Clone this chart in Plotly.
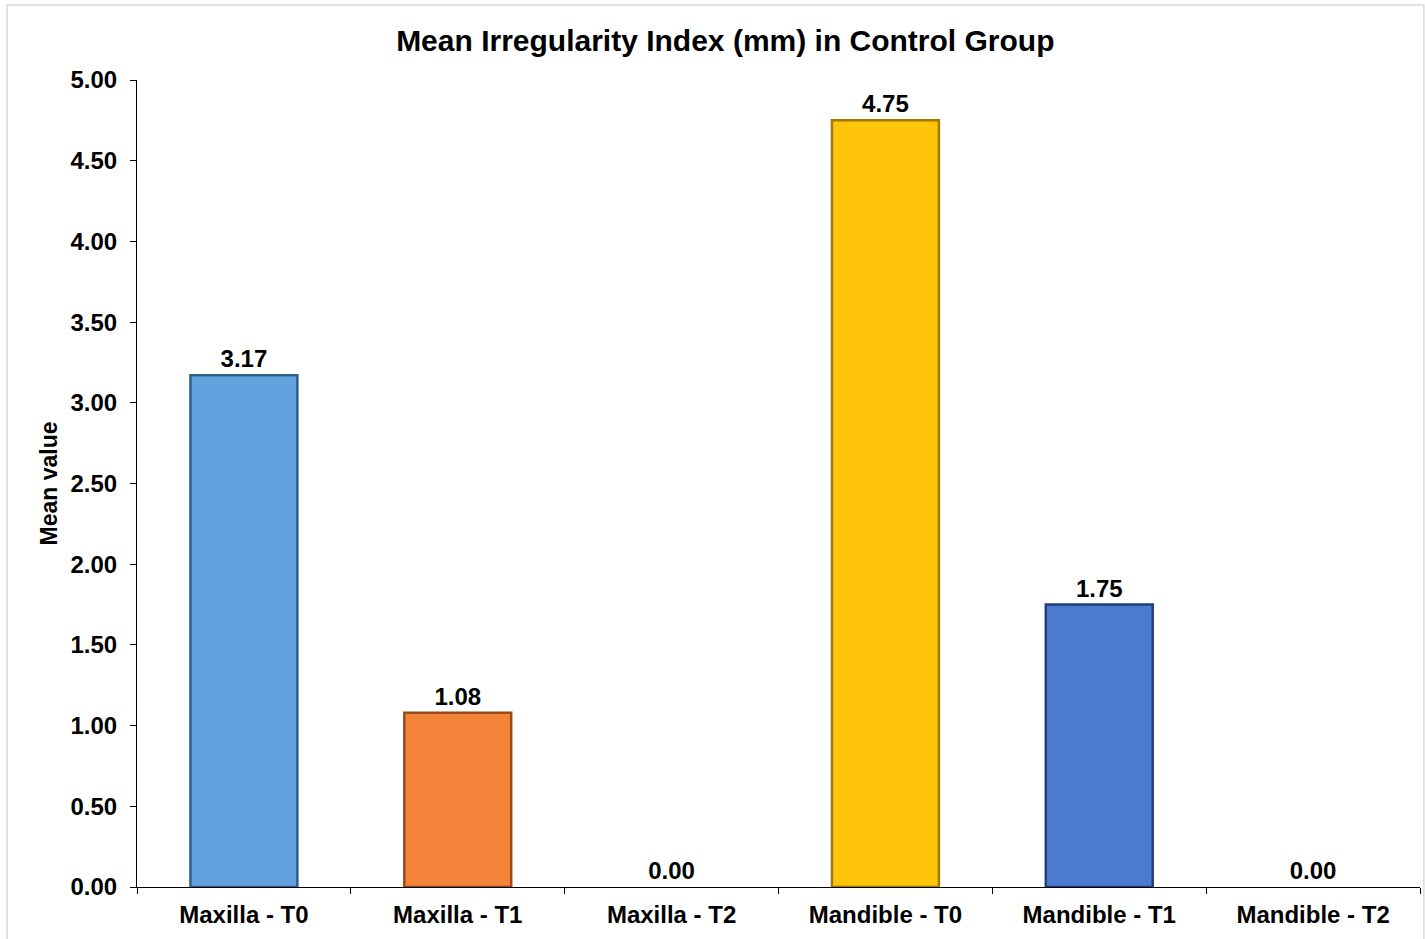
import plotly.graph_objects as go

categories = ["Maxilla - T0", "Maxilla - T1", "Maxilla - T2", "Mandible - T0", "Mandible - T1", "Mandible - T2"]
values = [3.17, 1.08, 0.00, 4.75, 1.75, 0.00]
colors = ["#62A2DF", "#F4843A", "#A5A5A5", "#FFC50A", "#4A7BD0", "#70AD47"]
edge_colors = ["#2F5F8F", "#9C4A15", "#666666", "#A27A00", "#223F78", "#3E6B25"]
y_ticks = [0, 0.5, 1, 1.5, 2, 2.5, 3, 3.5, 4, 4.5, 5]

FONT = "Liberation Sans, Arial, sans-serif"
edge_widths = [2.5 if v > 0 else 0 for v in values]

fig = go.Figure(go.Bar(
    x=categories,
    y=values,
    marker=dict(color=colors, line=dict(color=edge_colors, width=edge_widths)),
    text=values,
    texttemplate="%{y:.2f}",
    textposition="outside",
    textfont=dict(family=FONT, size=24, color="#000000", weight="bold"),
    cliponaxis=False,
    width=0.5,
))

fig.update_layout(
    width=1425, height=939,
    paper_bgcolor="white", plot_bgcolor="white",
    margin=dict(l=137, r=5, t=80, b=52),
    title=dict(text="Mean Irregularity Index (mm) in Control Group",
               x=0.509, xanchor="center", y=0.957, yanchor="middle",
               font=dict(family=FONT, size=30, color="#000000", weight="bold")),
    showlegend=False,
    font=dict(family=FONT, color="#000000"),
    shapes=[dict(type="rect", xref="paper", yref="paper", x0=-0.1013, x1=1.003, y0=-0.07, y1=1.093,
                 line=dict(color="#D9D9D9", width=1.5), layer="below")],
)

fig.update_xaxes(
    type="category",
    showline=True, linecolor="#000000", linewidth=1.2,
    ticks="outside", tickson="boundaries", ticklen=6, tickcolor="#000000",
    tickfont=dict(family=FONT, size=24, color="#000000", weight="bold"),
    ticklabelstandoff=6,
    showgrid=False,
)

fig.update_yaxes(
    range=[0, 5], tickvals=y_ticks, tickformat=".2f",
    showline=True, linecolor="#000000", linewidth=1.2,
    ticks="outside", ticklen=6, tickcolor="#000000",
    tickfont=dict(family=FONT, size=24, color="#000000", weight="bold"),
    ticklabelstandoff=8,
    showgrid=False, zeroline=False,
    title=dict(text="Mean value", font=dict(family=FONT, size=23, color="#000000", weight="bold"), standoff=6),
)

fig.write_html("out.html")
